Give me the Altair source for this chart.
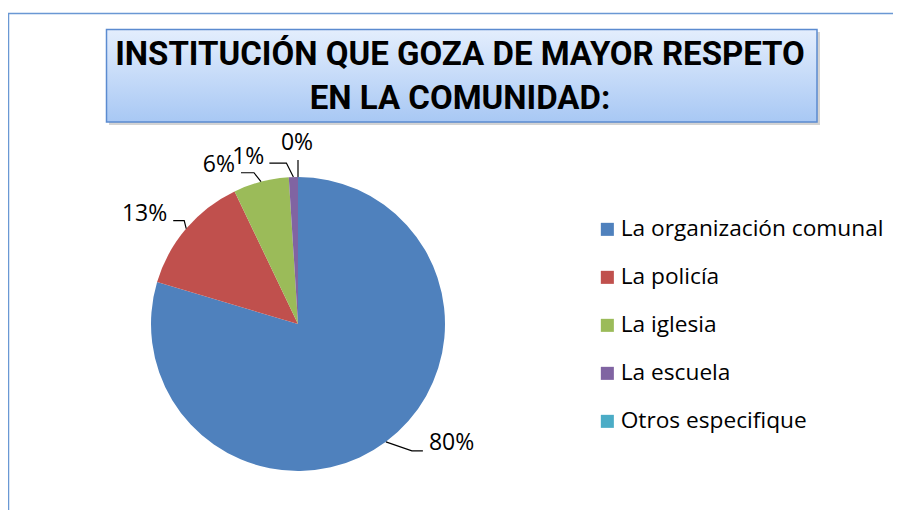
import math
import altair as alt
import pandas as pd

# ---- data ----
CATEGORIES = ["La organización comunal", "La policía", "La iglesia", "La escuela", "Otros especifique"]
VALUES = [79.6, 13.3, 6.1, 1.0, 0.0]
COLORS = ["#4F81BD", "#C0504D", "#9BBB59", "#8064A2", "#4BACC6"]
TITLE_LINES = ["INSTITUCIÓN QUE GOZA DE MAYOR RESPETO", "EN LA COMUNIDAD:"]

# ---- layout ----
W, H = 885, 502
CX, CY, R = 290, 316, 147
# leader-line geometry per slice: elbow offset from edge, end offset from elbow, text offset from end, align
ELBOW = [(26, 9), (-2, -8), (-7, -9), (-7, -14), (0, -17)]
RUN = [11, -11, -13, -17, 0]
TXT = [(6, -8), (-6, -7), (-6, -8), (-5, -6), (-1, -17)]
ALIGN = ["left", "right", "right", "right", "center"]

total = sum(VALUES)
rows, lines, labels = [], [], []
cum = 0.0
for i, (c, v) in enumerate(zip(CATEGORIES, VALUES)):
    rows.append({"cat": c, "value": v, "idx": i})
    mid = (cum + v / 2) / total * 2 * math.pi
    cum += v
    ex, ey = CX + R * math.sin(mid), CY - R * math.cos(mid)
    bx, by = ex + ELBOW[i][0], ey + ELBOW[i][1]
    tx, ty = bx + RUN[i], by
    for k, (px, py) in enumerate([(ex, ey), (bx, by), (tx, ty)]):
        lines.append({"g": i, "o": k, "px": px, "py": py})
    labels.append({"px": tx + TXT[i][0], "py": ty + TXT[i][1],
                   "label": f"{round(v / total * 100):.0f}%", "align": ALIGN[i]})

pie_df = pd.DataFrame(rows)
line_df = pd.DataFrame(lines)
lab_df = pd.DataFrame(labels)

xs = alt.Scale(domain=[0, W], range=[0, W], nice=False, zero=False)
ys = alt.Scale(domain=[0, H], range=[0, H], nice=False, zero=False)
one = alt.Data(values=[{}])

border_left = alt.Chart(one).mark_rule(color="#6A98D4", strokeWidth=1.5).encode(
    x=alt.value(0.5), y=alt.value(5), y2=alt.value(H))
border_top = alt.Chart(one).mark_rule(color="#6A98D4", strokeWidth=1.5).encode(
    x=alt.value(0), x2=alt.value(W), y=alt.value(5.5))

shadow = alt.Chart(one).mark_rect(color="#808080", opacity=0.35).encode(
    x=alt.value(101), x2=alt.value(812), y=alt.value(24), y2=alt.value(117))
grad = alt.LinearGradient(
    gradient="linear", x1=0, x2=0, y1=0, y2=1,
    stops=[alt.GradientStop(color="#E4EEFD", offset=0),
           alt.GradientStop(color="#A8C8F4", offset=1)])
box = alt.Chart(one).mark_rect(fill=grad, stroke="#5B8BD0", strokeWidth=1.5).encode(
    x=alt.value(98.5), x2=alt.value(809), y=alt.value(21.5), y2=alt.value(114))
title_font = "Roboto, Liberation Sans, sans-serif"
t1 = alt.Chart(one).mark_text(text=TITLE_LINES[0], font=title_font, fontSize=33, fontWeight="bold",
                              color="#000000", align="center", baseline="middle").encode(
    x=alt.value(452), y=alt.value(47))
t2 = alt.Chart(one).mark_text(text=TITLE_LINES[1], font=title_font, fontSize=33, fontWeight="bold",
                              color="#000000", align="center", baseline="middle").encode(
    x=alt.value(452), y=alt.value(91))

pie = alt.Chart(pie_df).mark_arc(radius=R).encode(
    theta=alt.Theta("value:Q", stack=True),
    order=alt.Order("idx:Q"),
    color=alt.Color("cat:N", scale=alt.Scale(domain=CATEGORIES, range=COLORS),
                    sort=CATEGORIES,
                    legend=alt.Legend(title=None, orient="none", legendX=588, legendY=210,
                                      symbolType="square", symbolSize=170, symbolStrokeWidth=0,
                                      labelFont="Open Sans", labelFontSize=22.7, labelColor="#000000",
                                      labelOffset=2, rowPadding=24, labelLimit=400)),
    x=alt.value(CX), y=alt.value(CY))

leaders = alt.Chart(line_df).mark_line(color="#000000", strokeWidth=1.2).encode(
    x=alt.X("px:Q", scale=xs, axis=None),
    y=alt.Y("py:Q", scale=ys, axis=None),
    detail="g:N", order="o:Q")

def lab_layer(a):
    return alt.Chart(lab_df).transform_filter(alt.datum.align == a).mark_text(
        align=a, baseline="middle", font="Open Sans", fontSize=23, color="#000000").encode(
        x=alt.X("px:Q", scale=xs, axis=None),
        y=alt.Y("py:Q", scale=ys, axis=None),
        text="label:N")

chart = alt.layer(
    border_left, border_top, shadow, box, t1, t2, pie, leaders,
    lab_layer("left"), lab_layer("right"), lab_layer("center")
).properties(
    width=W, height=H, autosize=alt.AutoSizeParams(type="none"), padding=0,
    background="#FFFFFF"
).configure_view(stroke=None)

chart.save("out.html", embed_options={"renderer": "svg", "actions": False})
